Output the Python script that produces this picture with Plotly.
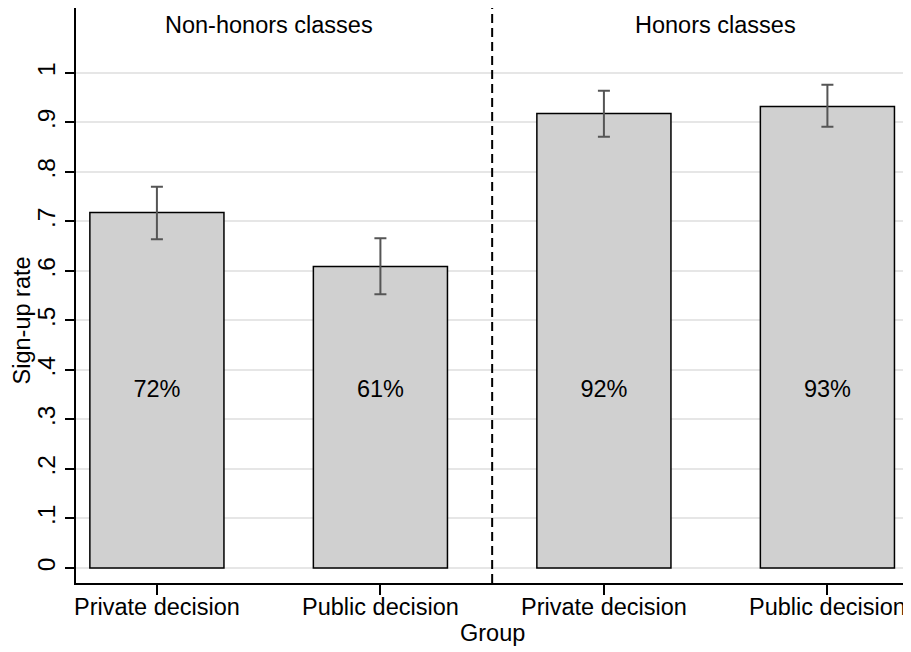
import plotly.graph_objects as go

categories = ["Private decision", "Public decision", "Private decision", "Public decision"]
rates = [0.718, 0.609, 0.918, 0.932]
ci_low = [0.664, 0.553, 0.871, 0.891]
ci_high = [0.770, 0.666, 0.964, 0.976]
pct_labels = ["72%", "61%", "92%", "93%"]
panel_titles = ["Non-honors classes", "Honors classes"]
ytick_vals = [0, 0.1, 0.2, 0.3, 0.4, 0.5, 0.6, 0.7, 0.8, 0.9, 1]
ytick_text = ["0", ".1", ".2", ".3", ".4", ".5", ".6", ".7", ".8", ".9", "1"]

FONT = "Liberation Sans, Arial, Helvetica, sans-serif"
FS = 23.5
LABEL_Y = 0.357

xpos = list(range(len(categories)))
err_plus = [h - v for h, v in zip(ci_high, rates)]
err_minus = [v - l for v, l in zip(rates, ci_low)]

fig = go.Figure()
fig.add_trace(go.Bar(
    x=xpos, y=rates, width=0.6,
    marker=dict(color="#d0d0d0", line=dict(color="black", width=1.5)),
    error_y=dict(type="data", array=err_plus, arrayminus=err_minus,
                 color="#555555", thickness=2, width=6),
    showlegend=False, hoverinfo="skip",
))
fig.add_trace(go.Scatter(
    x=xpos, y=[LABEL_Y] * len(xpos), mode="text", text=pct_labels,
    textposition="middle center",
    textfont=dict(family=FONT, size=FS, color="black"),
    showlegend=False, hoverinfo="skip",
))

# page body has an 8px margin; figure sized/offset to compensate
fig.update_layout(
    width=903, height=644,
    margin=dict(l=68, r=0, t=0, b=69),
    paper_bgcolor="white", plot_bgcolor="white",
    font=dict(family=FONT, size=FS, color="black"),
    xaxis=dict(
        range=[-0.362, 3.374], tickvals=xpos, ticktext=categories,
        showgrid=False, zeroline=False, showline=True, linecolor="black", linewidth=2,
        ticks="outside", ticklen=10, tickwidth=2, tickcolor="black",
        ticklabelstandoff=-8,
        tickfont=dict(family=FONT, size=FS, color="black"),
    ),
    yaxis=dict(
        range=[-0.0303, 1.131], tickvals=ytick_vals, ticktext=ytick_text,
        tickangle=-90,
        showgrid=True, gridcolor="#e6e6e6", gridwidth=1.5, zeroline=False,
        showline=True, linecolor="black", linewidth=2,
        ticks="outside", ticklen=9, tickwidth=2, tickcolor="black",
        tickfont=dict(family=FONT, size=24.5, color="black"),
    ),
)

# divider between panels
fig.add_shape(type="line", xref="x", yref="paper", x0=1.5, x1=1.5, y0=0, y1=1,
              line=dict(color="black", width=2, dash="9px,5px"))

# panel titles
for i, t in enumerate(panel_titles):
    fig.add_annotation(x=0.5 + 2 * i, y=1.097, xref="x", yref="y", text=t,
                       showarrow=False, font=dict(family=FONT, size=FS, color="black"),
                       xanchor="center", yanchor="middle")

# axis titles
fig.add_annotation(x=0, y=0.5, xref="paper", yref="y", xshift=-54, text="Sign-up rate",
                   textangle=-90, showarrow=False,
                   font=dict(family=FONT, size=FS, color="black"),
                   xanchor="center", yanchor="middle")
fig.add_annotation(x=1.5, y=0, xref="x", yref="paper", yshift=-50, text="Group",
                   showarrow=False, font=dict(family=FONT, size=FS, color="black"),
                   xanchor="center", yanchor="middle")

fig.write_html("out.html")
